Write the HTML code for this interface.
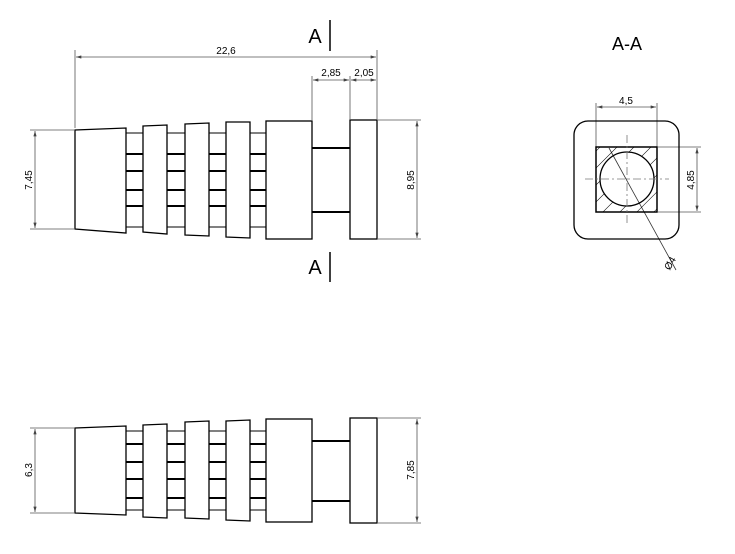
<!DOCTYPE html>
<html><head><style>body{margin:0;background:#fff}svg{display:block}text{font-family:"Liberation Sans",sans-serif;fill:#000}</style></head><body>
<svg width="735" height="554" viewBox="0 0 735 554" xmlns="http://www.w3.org/2000/svg">
<defs>
<marker id="a" viewBox="0 0 10 6" refX="10" refY="3" markerWidth="7" markerHeight="4" orient="auto-start-reverse"><path d="M0,0L10,3L0,6z" fill="#444"/></marker>
<pattern id="h" patternUnits="userSpaceOnUse" width="12" height="12" patternTransform="rotate(45)"><line x1="0" y1="0" x2="0" y2="12" stroke="#000" stroke-width="1"/></pattern>
</defs>
<g stroke="#555" stroke-width="0.8" fill="none">
<line x1="75" y1="50" x2="75" y2="128"/><line x1="377" y1="50" x2="377" y2="119"/>
<line x1="312" y1="76" x2="312" y2="120"/><line x1="350" y1="76" x2="350" y2="119"/>
<line x1="76" y1="57" x2="376" y2="57" marker-start="url(#a)" marker-end="url(#a)"/>
<line x1="313" y1="80" x2="349" y2="80" marker-start="url(#a)" marker-end="url(#a)"/>
<line x1="351" y1="80" x2="376" y2="80" marker-start="url(#a)" marker-end="url(#a)"/>
<line x1="30" y1="130" x2="74" y2="130"/><line x1="30" y1="229" x2="74" y2="229"/>
<line x1="35" y1="131" x2="35" y2="228" marker-start="url(#a)" marker-end="url(#a)"/>
<line x1="378" y1="120" x2="421" y2="120"/><line x1="378" y1="239" x2="421" y2="239"/>
<line x1="417" y1="121" x2="417" y2="238" marker-start="url(#a)" marker-end="url(#a)"/>
<line x1="30" y1="428" x2="74" y2="428"/><line x1="30" y1="513" x2="74" y2="513"/>
<line x1="35" y1="429" x2="35" y2="512" marker-start="url(#a)" marker-end="url(#a)"/>
<line x1="378" y1="418" x2="421" y2="418"/><line x1="378" y1="523" x2="421" y2="523"/>
<line x1="417" y1="419" x2="417" y2="522" marker-start="url(#a)" marker-end="url(#a)"/>
<line x1="596" y1="103" x2="596" y2="147"/><line x1="657" y1="103" x2="657" y2="147"/>
<line x1="597" y1="107" x2="656" y2="107" marker-start="url(#a)" marker-end="url(#a)"/>
<line x1="658" y1="147" x2="701" y2="147"/><line x1="658" y1="212" x2="701" y2="212"/>
<line x1="697" y1="148" x2="697" y2="211" marker-start="url(#a)" marker-end="url(#a)"/>
<line x1="609" y1="148" x2="676" y2="270" stroke="#333"/>
</g>
<g stroke="#000" stroke-width="1" fill="none">
<line x1="330" y1="20" x2="330" y2="51" stroke-width="1.5"/>
<line x1="330" y1="252" x2="330" y2="282" stroke-width="1.5"/>
</g>
<g font-size="10" text-anchor="middle">
<text x="226" y="54">22,6</text>
<text x="331" y="76">2,85</text>
<text x="364" y="76">2,05</text>
<text transform="translate(32,180) rotate(-90)">7,45</text>
<text transform="translate(414,180) rotate(-90)">8,95</text>
<text transform="translate(32,470) rotate(-90)">6,3</text>
<text transform="translate(414,470) rotate(-90)">7,85</text>
<text x="626" y="104">4,5</text>
<text transform="translate(694,180) rotate(-90)">4,85</text>
<text transform="translate(673,265) rotate(-60)">Ø4</text>
</g>
<text x="315" y="43" font-size="20" text-anchor="middle">A</text>
<text x="315" y="274" font-size="20" text-anchor="middle">A</text>
<text x="627" y="50" font-size="18" text-anchor="middle">A-A</text>

<g stroke="#000" fill="none">
<g stroke-width="1">
<line x1="126" y1="133" x2="266" y2="133"/><line x1="126" y1="227" x2="266" y2="227"/>
</g>
<g stroke-width="2">
<line x1="126" y1="154" x2="266" y2="154"/><line x1="126" y1="171" x2="266" y2="171"/>
<line x1="126" y1="190" x2="266" y2="190"/><line x1="126" y1="206" x2="266" y2="206"/>
<line x1="312" y1="148" x2="350" y2="148"/><line x1="312" y1="212" x2="350" y2="212"/>
</g>
<g stroke-width="1.3" fill="#fff">
<path d="M75,130L126,128L126,233L75,229Z"/>
<path d="M143,126L167,125L167,234L143,232Z"/>
<path d="M185,124L209,123L209,236L185,235Z"/>
<path d="M226,122L250,122L250,238L226,237Z"/>
<rect x="266" y="121" width="46" height="118"/>
<rect x="350" y="120" width="27" height="119"/>
</g>
</g>

<g stroke="#000" fill="none">
<g stroke-width="1">
<line x1="126" y1="431" x2="266" y2="431"/><line x1="126" y1="510" x2="266" y2="510"/>
</g>
<g stroke-width="2">
<line x1="126" y1="444" x2="266" y2="444"/><line x1="126" y1="462" x2="266" y2="462"/>
<line x1="126" y1="479" x2="266" y2="479"/><line x1="126" y1="498" x2="266" y2="498"/>
<line x1="312" y1="441" x2="350" y2="441"/><line x1="312" y1="501" x2="350" y2="501"/>
</g>
<g stroke-width="1.3" fill="#fff">
<path d="M75,428L126,426L126,515L75,513Z"/>
<path d="M143,425L167,424L167,518L143,517Z"/>
<path d="M185,422L209,421L209,519L185,518Z"/>
<path d="M226,421L250,420L250,521L226,520Z"/>
<rect x="266" y="419" width="46" height="103"/>
<rect x="350" y="418" width="27" height="105"/>
</g>
</g>

<rect x="574" y="121" width="105" height="118" rx="14" fill="none" stroke="#000" stroke-width="1.3"/>
<path d="M596,147H657V212H596Z M600,179a27,27 0 1,0 54,0a27,27 0 1,0 -54,0Z" fill="url(#h)" fill-rule="evenodd" stroke="none"/>
<rect x="596" y="147" width="61" height="65" fill="none" stroke="#000" stroke-width="1.5"/>
<circle cx="627" cy="179" r="27" fill="none" stroke="#000" stroke-width="1.3"/>
<g stroke="#777" stroke-width="0.8" stroke-dasharray="8,3,2,3">
<line x1="585" y1="179" x2="669" y2="179"/>
<line x1="627" y1="135" x2="627" y2="226"/>
</g>
</svg>
</body></html>
